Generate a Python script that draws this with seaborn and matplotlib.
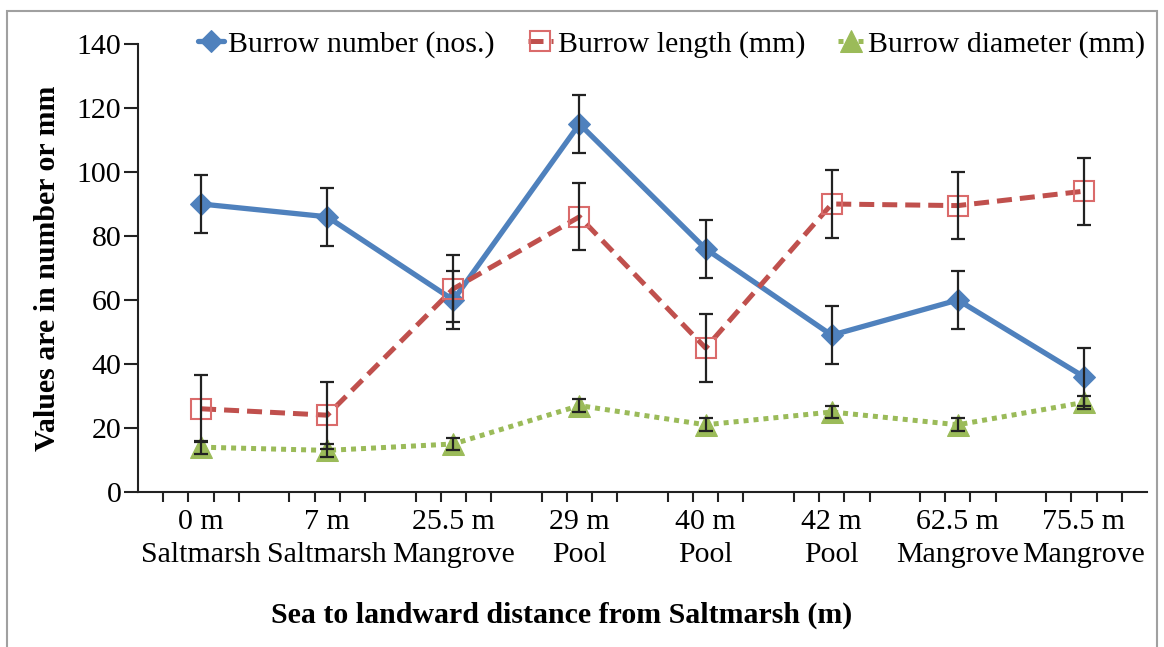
import numpy as np
import matplotlib
matplotlib.use("Agg")
import matplotlib.pyplot as plt
import seaborn as sns
from matplotlib.patches import Rectangle

# data
distances = ["0 m", "7 m", "25.5 m", "29 m", "40 m", "42 m", "62.5 m", "75.5 m"]
habitats = ["Saltmarsh", "Saltmarsh", "Mangrove", "Pool", "Pool", "Pool", "Mangrove", "Mangrove"]
burrow_number = [90, 86, 60, 115, 76, 49, 60, 36]
burrow_number_err = [9, 9, 9, 9, 9, 9, 9, 9]
burrow_length = [26, 24, 63.5, 86, 45, 90, 89.5, 94]
burrow_length_err = [10.5, 10.5, 10.5, 10.5, 10.5, 10.5, 10.5, 10.5]
burrow_diameter = [14, 13, 15, 27, 21, 25, 21, 28]
burrow_diameter_err = [2, 2, 2, 2, 2, 2, 2, 2]

sns.set_style("ticks")
plt.rcParams['font.family'] = ['Liberation Serif', 'DejaVu Serif']
plt.rcParams['font.size'] = 21.5
plt.rcParams['text.color'] = 'black'
plt.rcParams['axes.labelcolor'] = 'black'
plt.rcParams['xtick.color'] = 'black'
plt.rcParams['ytick.color'] = 'black'

fig = plt.figure(figsize=(11.64, 6.47), dpi=100)
ax = fig.add_axes([0.1186, 0.2396, 0.8668, 0.6924])

x = np.arange(len(distances))

sns.lineplot(x=x, y=burrow_number, ax=ax, color="#4F81BD", lw=3.8,
             marker="D", markersize=11, mfc="#4F81BD", mec="#4F81BD",
             label="Burrow number (nos.)")
sns.lineplot(x=x, y=burrow_length, ax=ax, color="#C0504D", lw=3.6,
             linestyle=(0, (3, 1.6)), marker="s", markersize=15,
             mfc="none", mec="#DA6B6B", mew=1.5,
             label="Burrow length (mm)")
sns.lineplot(x=x, y=burrow_diameter, ax=ax, color="#9BBB59", lw=3.6,
             linestyle=(0, (1, 1)), marker="^", markersize=16,
             mfc="#9BBB59", mec="#9BBB59",
             label="Burrow diameter (mm)")

for vals, errs in [(burrow_number, burrow_number_err),
                   (burrow_length, burrow_length_err),
                   (burrow_diameter, burrow_diameter_err)]:
    ax.errorbar(x, vals, yerr=errs, fmt="none", ecolor="#222222",
                elinewidth=1.6, capsize=5, capthick=1.6, zorder=5)

ax.set_xlim(-0.5, 7.5)
ax.set_ylim(0, 140)
ax.set_yticks(np.arange(0, 141, 20))
ax.set_xticks(x, [d + "\n" + h for d, h in zip(distances, habitats)])
for lbl in ax.get_xticklabels():
    lbl.set_linespacing(1.35)
ax.set_xticks(np.concatenate([x - 0.3, x - 0.1, x + 0.1, x + 0.3]), minor=True)
ax.tick_params(axis="x", which="major", length=0, pad=12, labelsize=21.5)
ax.tick_params(axis="x", which="minor", length=7, width=1.5, color="#222222")
ax.tick_params(axis="y", length=10, width=1.5, color="#222222", labelsize=21.5, pad=2)
for s in ["top", "right"]:
    ax.spines[s].set_visible(False)
for s in ["left", "bottom"]:
    ax.spines[s].set_linewidth(1.5)
    ax.spines[s].set_color("#222222")

ax.set_xlabel("Sea to landward distance from Saltmarsh (m)", fontsize=21.5,
              fontweight="bold")
ax.xaxis.set_label_coords(0.42, -0.244)
ax.set_ylabel("Values are in number or mm", fontsize=21.5, fontweight="bold",
              labelpad=11)

ax.legend(loc="center", bbox_to_anchor=(0.577, 0.932), bbox_transform=fig.transFigure,
          ncol=3, frameon=False, fontsize=21.5, handlelength=0.85,
          handletextpad=0.15, columnspacing=1.1)

fig.patches.append(Rectangle((0.006, -0.01), 0.988, 0.993, transform=fig.transFigure,
                             fill=False, edgecolor="#A0A0A0", lw=1.5))

fig.savefig("out.png", dpi=100)
